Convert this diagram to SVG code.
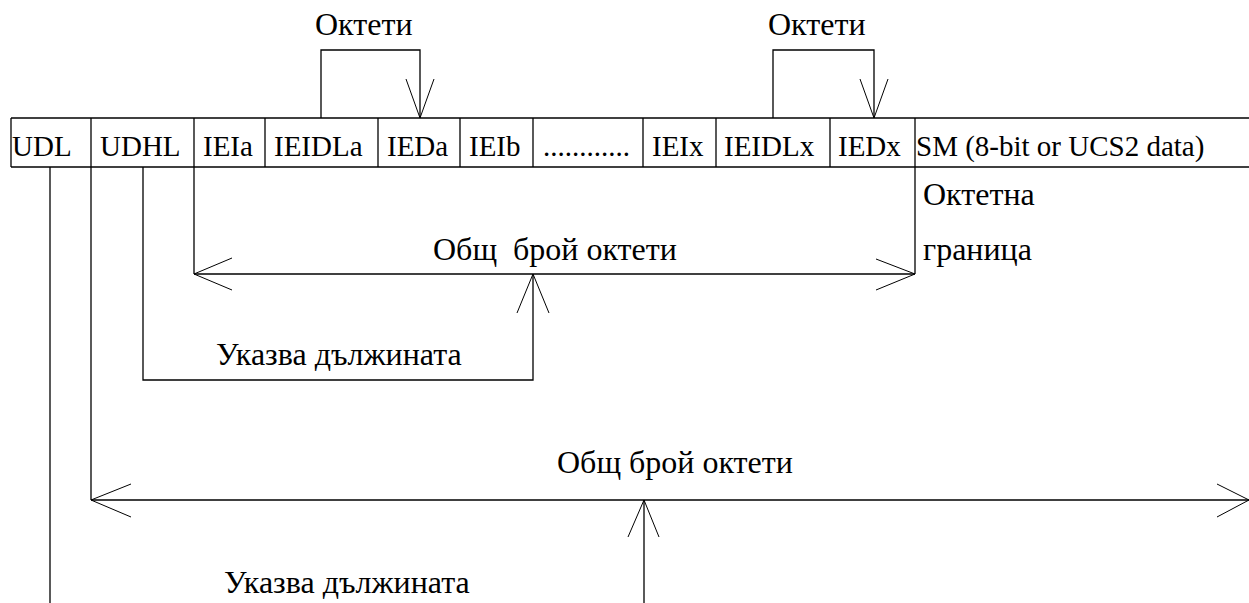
<svg xmlns="http://www.w3.org/2000/svg" width="1249" height="603" viewBox="0 0 1249 603">
<style>
text{font-family:'Liberation Serif',serif;font-size:29px;fill:#000}
text.cy{font-size:32px}
.ln{stroke:#000;stroke-width:1.3;fill:none}
.ah{stroke:#000;stroke-width:1;fill:none}
</style>
<rect width="1249" height="603" fill="#fff"/>
<g id="table">
<line class="ln" x1="11" y1="118" x2="1249" y2="118"/>
<line class="ln" x1="11" y1="167" x2="1249" y2="167"/>
<line class="ln" x1="11" y1="118" x2="11" y2="167"/>
<line class="ln" x1="91" y1="118" x2="91" y2="167"/>
<line class="ln" x1="194" y1="118" x2="194" y2="167"/>
<line class="ln" x1="265" y1="118" x2="265" y2="167"/>
<line class="ln" x1="378" y1="118" x2="378" y2="167"/>
<line class="ln" x1="460" y1="118" x2="460" y2="167"/>
<line class="ln" x1="533" y1="118" x2="533" y2="167"/>
<line class="ln" x1="643" y1="118" x2="643" y2="167"/>
<line class="ln" x1="716" y1="118" x2="716" y2="167"/>
<line class="ln" x1="830" y1="118" x2="830" y2="167"/>
<line class="ln" x1="915" y1="118" x2="915" y2="167"/>
</g>
<g id="cells">
<text x="12" y="156">UDL</text>
<text x="100" y="156">UDHL</text>
<text x="203" y="156">IEIa</text>
<text x="274" y="156">IEIDLa</text>
<text x="387" y="156">IEDa</text>
<text x="469" y="156">IEIb</text>
<text x="543" y="156">............</text>
<text x="652" y="156">IEIx</text>
<text x="724" y="156">IEIDLx</text>
<text x="838" y="156">IEDx</text>
<text x="916" y="156">SM (8-bit or UCS2 data)</text>
</g>
<g id="labels">
<text class="cy" x="315" y="35">Октети</text>
<text class="cy" x="768" y="35">Октети</text>
<text class="cy" x="923" y="205">Октетна</text>
<text class="cy" x="923" y="260">граница</text>
<text class="cy" x="433" y="260" xml:space="preserve">Общ  брой октети</text>
<text class="cy" x="216" y="365">Указва дължината</text>
<text class="cy" x="557" y="473">Общ брой октети</text>
<text class="cy" x="224" y="593">Указва дължината</text>
</g>
<g id="connectors">
<polyline class="ln" points="321,118 321,50 420,50 420,118"/>
<polyline class="ah" points="406,79 420,118 434,79"/>
<polyline class="ln" points="773,118 773,50 874,50 874,118"/>
<polyline class="ah" points="860,79 874,118 888,79"/>
<line class="ln" x1="194" y1="167" x2="194" y2="274"/>
<line class="ln" x1="915" y1="167" x2="915" y2="274"/>
<line class="ln" x1="194" y1="274" x2="915" y2="274"/>
<polyline class="ah" points="232,258 194,274 232,290"/>
<polyline class="ah" points="876,259 915,274 876,290"/>
<polyline class="ln" points="143,167 143,380 533,380 533,274"/>
<polyline class="ah" points="517,313 533,274 549,313"/>
<line class="ln" x1="91" y1="167" x2="91" y2="500"/>
<line class="ln" x1="91" y1="500" x2="1249" y2="500"/>
<polyline class="ah" points="131,484 91,500 131,517"/>
<polyline class="ah" points="1217,484 1249,500 1217,517"/>
<line class="ln" x1="644" y1="500" x2="644" y2="603"/>
<polyline class="ah" points="628,537 644,500 659,537"/>
<line class="ln" x1="50" y1="167" x2="50" y2="603"/>
</g>
</svg>
